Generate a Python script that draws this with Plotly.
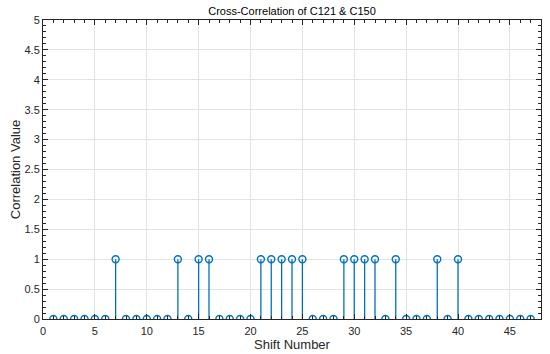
import plotly.graph_objects as go

shift = list(range(1, 48))
ones = [7, 13, 15, 16, 21, 22, 23, 24, 25, 29, 30, 31, 32, 34, 38, 40]
corr = [1 if s in ones else 0 for s in shift]

color = "#0072BD"
sx, sy = [], []
for s, v in zip(shift, corr):
    sx += [s, s, None]
    sy += [0, v, None]

FONT = "Liberation Sans, Arial"
fig = go.Figure()
fig.add_trace(go.Scatter(x=sx, y=sy, mode="lines", line=dict(color=color, width=1.3),
                         hoverinfo="skip", showlegend=False))
fig.add_trace(go.Scatter(x=shift, y=corr, mode="markers",
                         marker=dict(symbol="circle-open", size=7, color=color, line=dict(width=1.4)),
                         showlegend=False))

axis_common = dict(
    showline=True, linecolor="#262626", linewidth=1, mirror="allticks",
    ticks="inside", ticklen=5, tickcolor="#262626", automargin=False,
    showgrid=True, gridcolor="#e3e3e3", gridwidth=1, zeroline=False,
    tickfont=dict(family=FONT, size=11, color="#262626"),
)
fig.update_xaxes(range=[0, 48], tickvals=list(range(0, 50, 5)),
                 minor=dict(dtick=1, ticks="inside", ticklen=3, tickcolor="#262626", showgrid=False),
                 ticklabelstandoff=2,
                 title=dict(text="Shift Number", font=dict(family=FONT, size=13, color="#262626"), standoff=3),
                 **axis_common)
fig.update_yaxes(range=[0, 5], tickvals=[i * 0.5 for i in range(11)],
                 ticktext=["0", "0.5", "1", "1.5", "2", "2.5", "3", "3.5", "4", "4.5", "5"],
                 minor=dict(dtick=0.1, ticks="inside", ticklen=3, tickcolor="#262626", showgrid=False),
                 title=dict(text="Correlation Value", font=dict(family=FONT, size=13, color="#262626"), standoff=0),
                 **axis_common)
fig.update_layout(
    width=550, height=354,
    margin=dict(l=43, r=9, t=20, b=35),
    paper_bgcolor="white", plot_bgcolor="white",
    title=dict(text="Cross-Correlation of C121 & C150", xref="paper", x=0.5, xanchor="center",
               yref="container", y=0.968, yanchor="middle", automargin=False,
               font=dict(family=FONT, size=11, color="#000")),
)
fig.write_html("out.html", config={"displayModeBar": False},
               post_script="document.body.style.margin='0px';")
